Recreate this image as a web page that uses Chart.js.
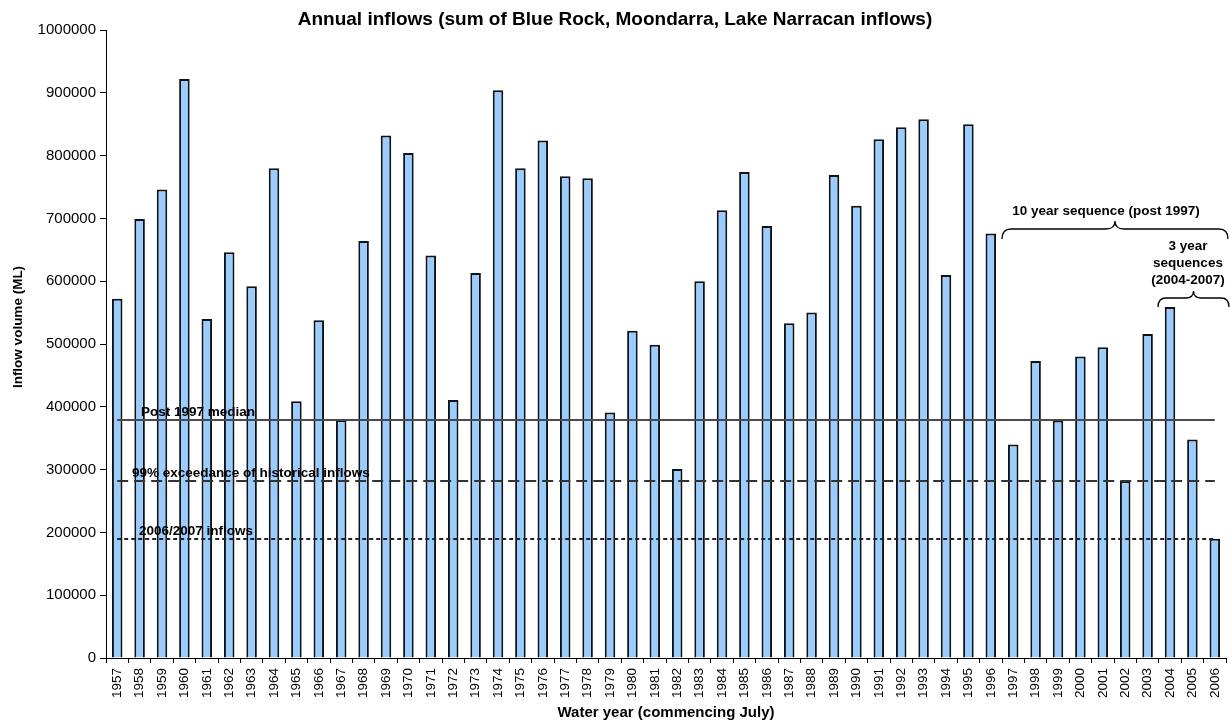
<!DOCTYPE html>
<html>
<head>
<meta charset="utf-8">
<script src="https://cdn.jsdelivr.net/npm/chart.js@4.4.1/dist/chart.umd.min.js"></script>
<style>
html,body{margin:0;padding:0;background:#fff;}
#wrap{width:1230px;height:724px;position:relative;}
</style>
</head>
<body>
<div id="wrap"><canvas id="c" width="1230" height="724"></canvas></div>
<script>
const years = ["1957","1958","1959","1960","1961","1962","1963","1964","1965","1966",
  "1967","1968","1969","1970","1971","1972","1973","1974","1975","1976",
  "1977","1978","1979","1980","1981","1982","1983","1984","1985","1986",
  "1987","1988","1989","1990","1991","1992","1993","1994","1995","1996",
  "1997","1998","1999","2000","2001","2002","2003","2004","2005","2006"];
const inflows = [572000,699000,746000,922000,540000,646000,592000,780000,409000,538000,
  379000,664000,832000,804000,641000,411000,613000,904000,780000,824000,
  767000,764000,391000,521000,499000,301000,600000,713000,774000,688000,
  533000,550000,769000,720000,826000,845000,858000,610000,850000,676000,
  340000,473000,378000,480000,495000,282000,516000,559000,348000,190000];
const yTicks = [0,100000,200000,300000,400000,500000,600000,700000,800000,900000,1000000];
const refLabels = ["Post 1997 median","99% exceedance of historical inflows","2006/2007 inflows"];
const refValues = [379000,282000,190000];
const chartTitle = "Annual inflows (sum of Blue Rock, Moondarra, Lake Narracan inflows)";
const xTitle = "Water year (commencing July)";
const yTitle = "Inflow volume (ML)";

const FONT = "'Liberation Sans', Arial, sans-serif";

const overlay = {
  id: 'overlay',
  afterDatasetsDraw(chart) {
    const ctx = chart.ctx;
    const xs = chart.scales.x, ys = chart.scales.y;
    const x0 = xs.getPixelForValue(0), x1 = xs.getPixelForValue(years.length - 1);
    const styles = [
      {dash: [], color: '#4a4a4a', w: 2},
      {dash: [11, 6], color: '#333', w: 2},
      {dash: [4, 3], color: '#222', w: 2}
    ];
    const labelX = [141, 132, 139];
    ctx.save();
    refValues.forEach((v, i) => {
      const y = Math.round(ys.getPixelForValue(v));
      ctx.beginPath();
      ctx.setLineDash(styles[i].dash);
      ctx.strokeStyle = styles[i].color;
      ctx.lineWidth = styles[i].w;
      ctx.moveTo(x0, y);
      ctx.lineTo(x1, y);
      ctx.stroke();
    });
    ctx.setLineDash([]);
    ctx.fillStyle = '#000';
    ctx.font = "bold 13.5px " + FONT;
    ctx.textAlign = 'left';
    ctx.textBaseline = 'alphabetic';
    refValues.forEach((v, i) => {
      const y = ys.getPixelForValue(v);
      ctx.fillText(refLabels[i], labelX[i], y - 3.5);
    });

    function brace(xa, xb, yEnd, yMid, yTop, r) {
      const mid = (xa + xb) / 2;
      ctx.beginPath();
      ctx.moveTo(xa, yEnd);
      ctx.quadraticCurveTo(xa, yMid, xa + r, yMid);
      ctx.lineTo(mid - r, yMid);
      ctx.quadraticCurveTo(mid, yMid, mid, yTop);
      ctx.quadraticCurveTo(mid, yMid, mid + r, yMid);
      ctx.lineTo(xb - r, yMid);
      ctx.quadraticCurveTo(xb, yMid, xb, yEnd);
      ctx.strokeStyle = '#000';
      ctx.lineWidth = 1.3;
      ctx.stroke();
    }
    brace(1002, 1228, 239, 229, 221, 9);
    brace(1158, 1229, 307, 298, 291, 8);
    ctx.textAlign = 'center';
    ctx.font = "bold 13.5px " + FONT;
    ctx.fillText("10 year sequence (post 1997)", 1106, 215);
    ctx.fillText("3 year", 1188, 250);
    ctx.fillText("sequences", 1188, 267);
    ctx.fillText("(2004-2007)", 1188, 284);

    ctx.font = "bold 19px " + FONT;
    ctx.fillText(chartTitle, 615, 25);
    ctx.font = "bold 15px " + FONT;
    const ca = chart.chartArea;
    ctx.fillText(xTitle, (ca.left + ca.right) / 2, 717);
    ctx.save();
    ctx.translate(22, 327);
    ctx.rotate(-Math.PI / 2);
    ctx.font = "bold 13.5px " + FONT;
    ctx.fillText(yTitle, 0, 0);
    ctx.restore();
    ctx.restore();
  }
};

new Chart(document.getElementById('c'), {
  type: 'bar',
  data: {
    labels: years,
    datasets: [{
      data: inflows,
      backgroundColor: '#99CCFF',
      borderColor: '#111',
      borderWidth: 2,
      barPercentage: 0.47,
      categoryPercentage: 1.0
    }]
  },
  options: {
    responsive: false,
    animation: false,
    devicePixelRatio: 1,
    layout: {padding: {top: 30, right: 4, left: 0, bottom: 0}},
    plugins: {legend: {display: false}, title: {display: false}, tooltip: {enabled: false}},
    scales: {
      x: {
        afterFit(s) { s.height = 66; s.paddingRight = 0; s.paddingLeft = 0; },
        grid: {display: true, offset: true, drawOnChartArea: false, tickLength: 5, color: '#000', lineWidth: 1},
        border: {display: true, color: '#000', width: 1},
        ticks: {color: '#000', font: {family: FONT, size: 13.5}, minRotation: 90, maxRotation: 90, autoSkip: false, padding: 5}
      },
      y: {
        min: 0, max: 1000000,
        afterFit(s) { s.width = 106; s.paddingTop = 0; s.paddingBottom = 0; },
        afterBuildTicks(s) { s.ticks = yTicks.map(v => ({value: v})); },
        grid: {display: true, drawOnChartArea: false, tickLength: 6, color: '#000', lineWidth: 1},
        border: {display: true, color: '#000', width: 1},
        ticks: {color: '#000', font: {family: FONT, size: 15}, padding: 4, callback: v => String(v)}
      }
    }
  },
  plugins: [overlay]
});
</script>
</body>
</html>
